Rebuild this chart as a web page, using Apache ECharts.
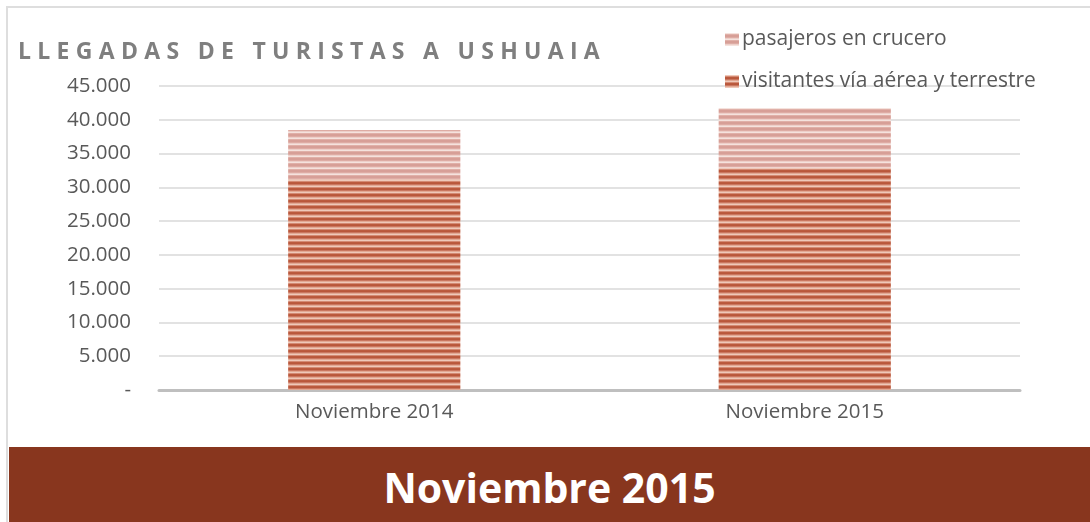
<!DOCTYPE html>
<html>
<head>
<meta charset="utf-8">
<script src="https://cdn.jsdelivr.net/npm/echarts@6/dist/echarts.min.js"></script>
<style>
  html, body { margin: 0; padding: 0; background: #fff; }
  #wrap { position: relative; width: 1090px; height: 522px; overflow: hidden; }
  #chart { position: absolute; left: 0; top: 0; width: 1090px; height: 522px; }
  #frame { position: absolute; left: 6px; top: 6px; width: 1090px; height: 520px;
           border-left: 2px solid #dedede; border-top: 2px solid #dedede; box-sizing: border-box; }
  #title { position: absolute; left: 18px; top: 34px; font-family: 'Open Sans', sans-serif;
           font-weight: bold; font-size: 23px; letter-spacing: 6.3px; color: #7f7f7f; white-space: nowrap; }
  #banner { position: absolute; left: 9px; top: 447px; width: 1081px; height: 75px; background: #88361e;
            color: #fff; font-family: 'Open Sans', sans-serif; font-weight: bold; font-size: 41px;
            text-align: center; line-height: 80px; }
</style>
</head>
<body>
<div id="wrap">
  <div id="frame"></div>
  <div id="chart"></div>
  <div id="title">LLEGADAS DE TURISTAS A USHUAIA</div>
  <div id="banner">Noviembre 2015</div>
</div>
<script>
const categories = ['Noviembre 2014', 'Noviembre 2015'];
const visitantes = [31200, 32900];
const crucero = [7300, 8850];

// horizontal stripe texture like the original fill
const stripes = (rows) => {
  const c = document.createElement('canvas');
  c.width = 4;
  c.height = rows.length;
  const ctx = c.getContext('2d');
  rows.forEach((col, i) => {
    ctx.fillStyle = col;
    ctx.fillRect(0, i, 4, 1);
  });
  return { image: c, repeat: 'repeat' };
};

const darkFill = stripes(['#efc8b9', '#d48a73', '#bb5a3e', '#b9573b', '#ca7760', '#e2a893']);
const lightFill = stripes(['#f5e2dd', '#e0b0a8', '#d79f97', '#d79f97', '#deaca4', '#edcfc9']);

const chart = echarts.init(document.getElementById('chart'), null, { renderer: 'canvas' });

const fmt = (v) => v === 0 ? '-' : v.toString().replace(/\B(?=(\d{3})+(?!\d))/g, '.');

chart.setOption({
  animation: false,
  backgroundColor: 'transparent',
  legend: {
    orient: 'vertical',
    left: 720,
    top: 24,
    itemWidth: 14,
    itemHeight: 13,
    itemGap: 21,
    icon: 'rect',
    data: ['pasajeros en crucero', 'visitantes vía aérea y terrestre'],
    textStyle: { fontFamily: 'Open Sans', fontSize: 21, color: '#595959', padding: [0, 0, 0, -2] }
  },
  grid: { left: 159, right: 70, top: 86, bottom: 132, containLabel: false },
  xAxis: {
    type: 'category',
    data: categories,
    axisTick: { show: false },
    axisLine: { lineStyle: { color: '#bfbfbf', width: 3 } },
    axisLabel: { fontFamily: 'Open Sans', fontSize: 20.5, color: '#595959', margin: 12 }
  },
  yAxis: {
    type: 'value',
    min: 0,
    max: 45000,
    interval: 5000,
    axisLine: { show: false },
    axisTick: { show: false },
    splitLine: { lineStyle: { color: '#d9d9d9', width: 1.5 } },
    axisLabel: { fontFamily: 'Open Sans', fontSize: 20.5, color: '#595959', margin: 28, formatter: fmt }
  },
  series: [
    {
      name: 'visitantes vía aérea y terrestre',
      type: 'bar',
      stack: 'total',
      barWidth: '40%',
      data: visitantes,
      itemStyle: { color: darkFill }
    },
    {
      name: 'pasajeros en crucero',
      type: 'bar',
      stack: 'total',
      barWidth: '40%',
      data: crucero,
      itemStyle: { color: lightFill }
    }
  ]
});
</script>
</body>
</html>
